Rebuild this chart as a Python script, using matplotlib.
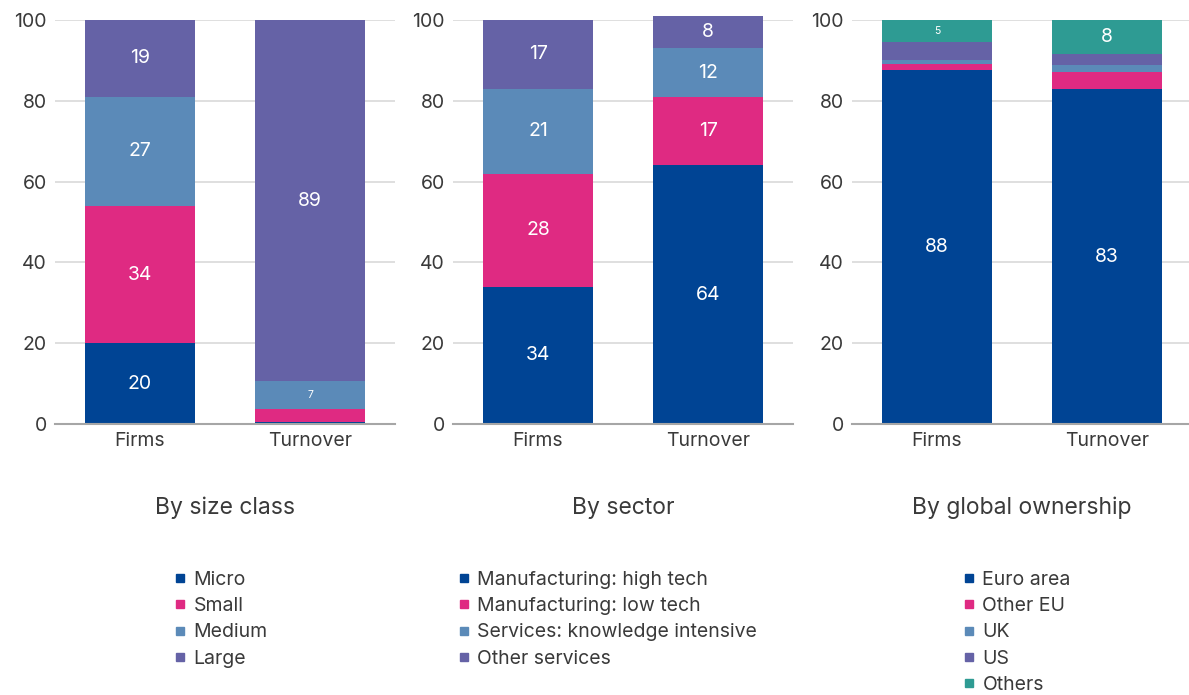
import matplotlib.pyplot as plt
from matplotlib.lines import Line2D

plt.rcParams['font.family'] = ['Inter', 'DejaVu Sans']

bars = ['Firms', 'Turnover']

# by size class
size_labels = ['Micro', 'Small', 'Medium', 'Large']
size_firms = [20, 34, 27, 19]
size_turnover = [0.5, 3.2, 6.9, 89.4]

# by sector
sector_labels = ['Manufacturing: high tech', 'Manufacturing: low tech',
                 'Services: knowledge intensive', 'Other services']
sector_firms = [34, 28, 21, 17]
sector_turnover = [64, 17, 12, 8]

# by global ownership
owner_labels = ['Euro area', 'Other EU', 'UK', 'US', 'Others']
owner_firms = [87.6, 1.5, 1.1, 4.4, 5.4]
owner_turnover = [82.9, 4.2, 1.8, 2.7, 8.4]

colors = ['#004494', '#DF2A82', '#5B8AB8', '#6562A6', '#2E9B93']
text_col = '#3a3a3a'

panels = [
    ('By size class', size_labels, size_firms, size_turnover),
    ('By sector', sector_labels, sector_firms, sector_turnover),
    ('By global ownership', owner_labels, owner_firms, owner_turnover),
]

W, H = 1189, 695
fig = plt.figure(figsize=(W / 100, H / 100), dpi=100)

lefts = [55, 453, 852]
legend_x = [174, 458, 963]

for k, (title, labels, firms, turnover) in enumerate(panels):
    ax = fig.add_axes([lefts[k] / W, 1 - 424 / H, 340 / W, 404 / H])
    for xi, vals in enumerate([firms, turnover]):
        bottom = 0
        for j, v in enumerate(vals):
            ax.bar(xi, v, bottom=bottom, width=0.647, color=colors[j],
                   clip_on=False, zorder=3)
            if v >= 5:
                fs = 14 if v >= 7.5 else 7.5
                ax.text(xi, bottom + v / 2, f'{v:.0f}', ha='center', va='center',
                        color='white', fontsize=fs, zorder=4)
            bottom += v
    ax.set_xlim(-0.5, 1.5)
    ax.set_ylim(0, 100)
    ax.set_yticks(range(0, 101, 20))
    ax.set_xticks([0, 1])
    ax.set_xticklabels(bars)
    ax.tick_params(length=0, labelsize=14, colors=text_col, pad=6)
    ax.grid(axis='y', color='#d9d9d9', linewidth=1.2, zorder=0)
    for s in ['top', 'right', 'left']:
        ax.spines[s].set_visible(False)
    ax.spines['bottom'].set_color('#a6a6a6')
    ax.spines['bottom'].set_linewidth(1.5)
    ax.spines['bottom'].set_zorder(5)

    fig.text((lefts[k] + 170) / W, 1 - 508 / H, title, ha='center', va='center',
             fontsize=16.5, color=text_col)

    handles = [Line2D([], [], marker='s', linestyle='none', markersize=6,
                      color=colors[j]) for j in range(len(labels))]
    fig.legend(handles, labels, loc='upper left',
               bbox_to_anchor=(legend_x[k] / W, 1 - 571 / H),
               frameon=False, fontsize=14, handlelength=0.6, handletextpad=0.4,
               labelspacing=0.42, borderaxespad=0, borderpad=0,
               labelcolor=text_col)

fig.savefig('out.png', dpi=100)
